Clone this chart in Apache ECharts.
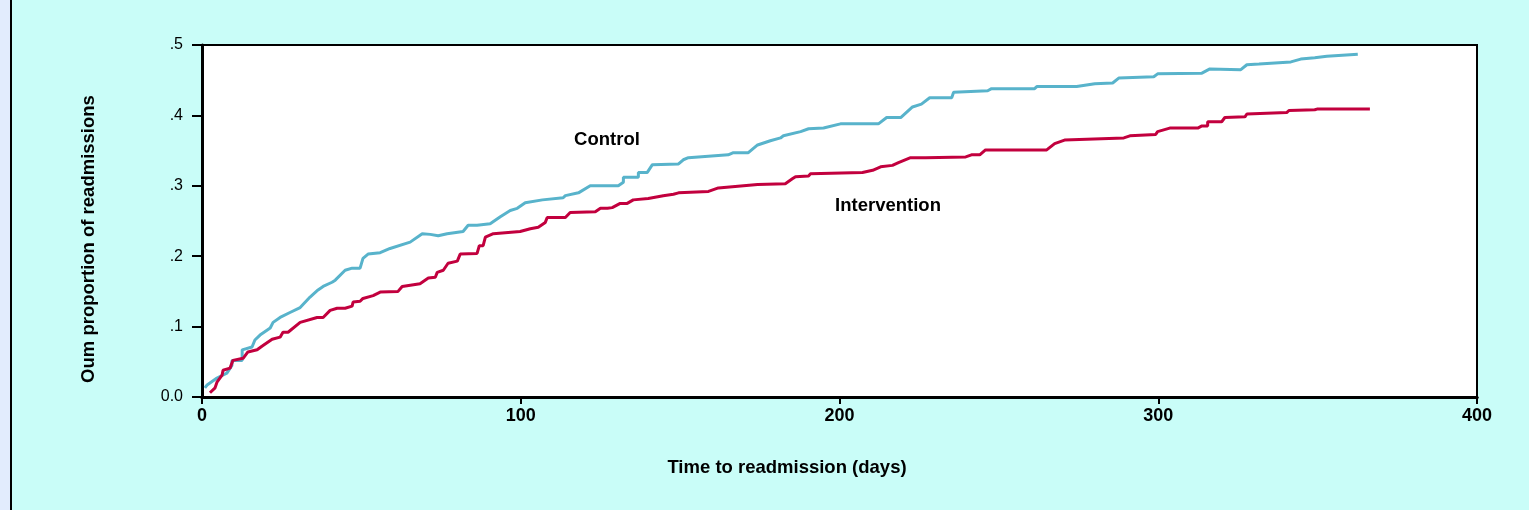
<!DOCTYPE html>
<html>
<head>
<meta charset="utf-8">
<style>
  html, body { margin: 0; padding: 0; background: #c9fdf8; }
  #chart { width: 1529px; height: 510px; }
</style>
<script src="https://cdn.jsdelivr.net/npm/echarts@6/dist/echarts.min.js"></script>
</head>
<body>
<div id="chart"></div>
<script>
// ---- Data ----
const controlDays = [0.9, 1.6, 4.7, 7.8, 9.4, 9.4, 12.6, 12.6, 15.7, 16.6, 18.2, 21.4, 22.3, 24.5, 27.6, 30.8, 33.9, 36.4, 38.0, 40.8, 41.8, 44.9, 47.1, 49.6, 50.5, 52.1, 55.9, 59.0, 65.3, 69.1, 71.6, 74.1, 76.9, 81.9, 83.5, 86.3, 90.4, 93.6, 96.7, 98.9, 101.4, 106.8, 107.1, 113.3, 114.0, 118.1, 121.8, 130.6, 132.2, 132.2, 136.9, 136.9, 139.7, 141.3, 149.5, 151.0, 152.6, 165.1, 166.7, 171.4, 174.3, 178.3, 181.5, 182.4, 187.8, 190.3, 195.0, 200.3, 212.2, 214.8, 219.2, 222.9, 225.7, 228.3, 235.2, 235.8, 246.5, 247.7, 261.2, 261.9, 274.4, 280.1, 285.7, 287.6, 298.6, 299.8, 313.7, 316.2, 325.9, 327.8, 331.6, 332.2, 341.6, 344.7, 349.1, 352.9, 362.6];
const controlValues = [0.013, 0.017, 0.027, 0.034, 0.045, 0.052, 0.052, 0.067, 0.071, 0.081, 0.088, 0.098, 0.106, 0.113, 0.120, 0.127, 0.142, 0.152, 0.157, 0.163, 0.166, 0.180, 0.183, 0.183, 0.197, 0.203, 0.205, 0.211, 0.220, 0.232, 0.231, 0.229, 0.232, 0.235, 0.244, 0.244, 0.246, 0.256, 0.265, 0.268, 0.276, 0.280, 0.282, 0.283, 0.286, 0.290, 0.300, 0.300, 0.305, 0.312, 0.312, 0.319, 0.319, 0.330, 0.331, 0.337, 0.340, 0.344, 0.347, 0.347, 0.358, 0.364, 0.368, 0.371, 0.377, 0.381, 0.382, 0.388, 0.388, 0.397, 0.397, 0.412, 0.416, 0.425, 0.425, 0.433, 0.435, 0.438, 0.438, 0.441, 0.441, 0.445, 0.446, 0.453, 0.455, 0.459, 0.460, 0.466, 0.465, 0.472, 0.473, 0.475, 0.476, 0.480, 0.482, 0.484, 0.487];

const interventionDays = [2.5, 4.1, 4.7, 6.3, 6.6, 8.8, 9.7, 12.9, 14.4, 17.3, 18.8, 22.0, 24.5, 25.4, 27.0, 30.8, 36.1, 38.0, 40.2, 42.4, 44.9, 47.1, 47.4, 49.6, 50.5, 53.7, 55.9, 61.5, 62.8, 68.4, 71.0, 73.2, 73.8, 75.7, 77.2, 80.1, 81.0, 86.3, 87.0, 88.2, 88.9, 91.4, 99.8, 103.0, 105.5, 107.7, 108.3, 114.0, 115.5, 123.4, 125.0, 127.2, 128.7, 131.2, 133.4, 135.3, 140.0, 144.7, 147.9, 149.5, 158.9, 162.0, 174.3, 183.0, 185.2, 186.2, 190.3, 190.9, 207.2, 210.4, 212.9, 216.6, 218.5, 222.3, 227.0, 239.6, 241.4, 244.0, 245.8, 265.0, 267.5, 270.6, 289.2, 291.1, 299.2, 299.8, 303.6, 312.4, 313.7, 315.5, 315.5, 319.9, 320.9, 327.2, 327.8, 340.3, 341.0, 349.1, 349.8, 366.4];
const interventionValues = [0.006, 0.013, 0.021, 0.031, 0.038, 0.041, 0.052, 0.055, 0.064, 0.067, 0.072, 0.082, 0.085, 0.092, 0.092, 0.106, 0.113, 0.113, 0.123, 0.126, 0.126, 0.129, 0.135, 0.136, 0.140, 0.144, 0.149, 0.150, 0.157, 0.161, 0.169, 0.170, 0.177, 0.180, 0.190, 0.193, 0.203, 0.204, 0.215, 0.215, 0.227, 0.232, 0.235, 0.239, 0.241, 0.248, 0.255, 0.255, 0.262, 0.263, 0.268, 0.268, 0.269, 0.275, 0.275, 0.280, 0.282, 0.286, 0.288, 0.290, 0.292, 0.297, 0.302, 0.303, 0.310, 0.313, 0.314, 0.317, 0.319, 0.322, 0.327, 0.329, 0.333, 0.340, 0.340, 0.341, 0.344, 0.344, 0.351, 0.351, 0.360, 0.365, 0.368, 0.371, 0.373, 0.377, 0.382, 0.382, 0.385, 0.385, 0.391, 0.391, 0.397, 0.398, 0.402, 0.404, 0.407, 0.408, 0.409, 0.409];

const xTickValues = [0, 100, 200, 300, 400];
const yTickLabels = ['0.0', '.1', '.2', '.3', '.4', '.5'];

const xTitle = 'Time to readmission (days)';
const yTitle = 'Oum proportion of readmissions';
const seriesNames = ['Control', 'Intervention'];

// ---- Chart ----
const zip = (xs, ys) => xs.map((x, i) => [x, ys[i]]);
const chart = echarts.init(document.getElementById('chart'), null, { renderer: 'canvas' });
const FONT = '"Liberation Sans", Arial, sans-serif';

chart.setOption({
  animation: false,
  backgroundColor: '#c9fdf8',
  grid: {
    left: 202, right: 52, top: 45, bottom: 113,
    show: true, backgroundColor: '#ffffff', borderColor: '#000000', borderWidth: 2
  },
  xAxis: [{
    type: 'value', min: xTickValues[0], max: xTickValues[xTickValues.length - 1], interval: 100,
    axisLine: { show: true, onZero: false, lineStyle: { color: '#000', width: 3 } },
    axisTick: { show: true, length: 7, lineStyle: { color: '#000', width: 2 } },
    axisLabel: { color: '#000', fontFamily: FONT, fontSize: 18, fontWeight: 'bold', margin: 10 },
    splitLine: { show: false }
  }, {
    type: 'value', position: 'top', min: 0, max: 400,
    axisLine: { show: true, lineStyle: { color: '#000', width: 3 } },
    axisTick: { show: false }, axisLabel: { show: false }, splitLine: { show: false }
  }],
  yAxis: {
    type: 'value', min: 0, max: 0.5, interval: 0.1,
    axisLine: { show: true, lineStyle: { color: '#000', width: 3 } },
    axisTick: { show: true, length: 10, lineStyle: { color: '#000', width: 2 } },
    axisLabel: {
      color: '#000', fontFamily: FONT, fontSize: 16, margin: 19,
      formatter: v => yTickLabels[Math.round(v * 10)]
    },
    splitLine: { show: false }
  },
  graphic: [
    { type: 'rect', left: 0, top: 0, shape: { width: 10, height: 510 }, style: { fill: '#e2ecfd' }, z: 100 },
    { type: 'rect', left: 10, top: 0, shape: { width: 2, height: 510 }, style: { fill: '#000000' }, z: 100 },
    { type: 'text', x: 787, y: 468, style: { text: xTitle, fill: '#000', font: 'bold 18.5px ' + FONT, textAlign: 'center', textVerticalAlign: 'middle' }, z: 100 },
    { type: 'text', x: 89, y: 239, rotation: Math.PI / 2, style: { text: yTitle, fill: '#000', font: 'bold 18.5px ' + FONT, textAlign: 'center', textVerticalAlign: 'middle' }, z: 100 },
    { type: 'text', x: 607, y: 140, style: { text: seriesNames[0], fill: '#000', font: 'bold 18.5px ' + FONT, textAlign: 'center', textVerticalAlign: 'middle' }, z: 100 },
    { type: 'text', x: 888, y: 206, style: { text: seriesNames[1], fill: '#000', font: 'bold 18.5px ' + FONT, textAlign: 'center', textVerticalAlign: 'middle' }, z: 100 }
  ],
  series: [{
    name: seriesNames[0], type: 'line', data: zip(controlDays, controlValues),
    showSymbol: false, symbol: 'none', lineStyle: { color: '#58b3cb', width: 3 }, z: 3
  }, {
    name: seriesNames[1], type: 'line', data: zip(interventionDays, interventionValues),
    showSymbol: false, symbol: 'none', lineStyle: { color: '#c2003e', width: 3 }, z: 4
  }]
});
</script>
</body>
</html>
